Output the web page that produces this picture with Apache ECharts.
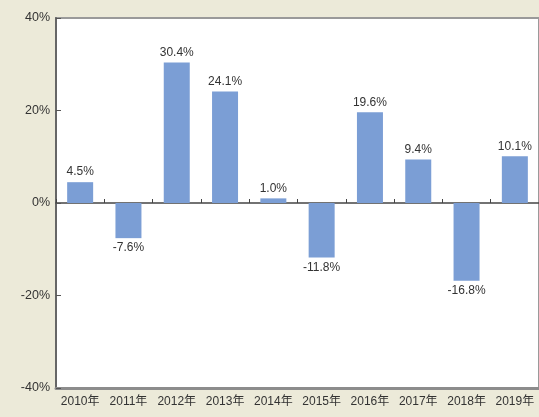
<!DOCTYPE html>
<html>
<head>
<meta charset="utf-8">
<script src="https://cdn.jsdelivr.net/npm/echarts@6/dist/echarts.min.js"></script>
<style>
  html, body { margin: 0; padding: 0; background: #ecead9; }
  #chart { width: 539px; height: 417px; }
</style>
</head>
<body>
<div id="chart"></div>
<script>
// annual change, percent
const years = ["2010年", "2011年", "2012年", "2013年", "2014年", "2015年", "2016年", "2017年", "2018年", "2019年"];
const changes = [4.5, -7.6, 30.4, 24.1, 1.0, -11.8, 19.6, 9.4, -16.8, 10.1];
const yTicks = { min: -40, max: 40, interval: 20 };

const labelFont = "'Liberation Sans', 'Noto Sans CJK JP', sans-serif";
const narrowFont = "'Liberation Sans Narrow', 'Liberation Sans', 'Noto Sans CJK JP', sans-serif";

let chart = echarts.init(document.getElementById("chart"));

chart.setOption({
    backgroundColor: "#ecead9",
    animation: false,
    grid: {
        left: 56, right: -2, top: 18, bottom: 29,
        show: true,
        backgroundColor: "#ffffff",
        borderColor: "#9a9a9a",
        borderWidth: 2
    },
    xAxis: [
        {
            type: "category",
            data: years,
            position: "bottom",
            axisLine: { onZero: false, lineStyle: { color: "#8c8c8c", width: 3 } },
            axisTick: { show: false },
            axisLabel: {
                interval: 0,
                color: "#333", fontSize: 12, fontFamily: narrowFont, margin: 8
            }
        },
        {
            // zero line with small ticks pointing up
            type: "category",
            data: years,
            position: "top",
            axisLine: { onZero: true, lineStyle: { color: "#444", width: 1.5 } },
            axisTick: { show: true, interval: 0, length: 4, lineStyle: { color: "#444" } },
            axisLabel: { show: false, interval: 0 }
        }
    ],
    yAxis: {
        type: "value",
        min: yTicks.min, max: yTicks.max, interval: yTicks.interval,
        axisLine: { show: true, onZero: false, lineStyle: { color: "#666", width: 2 } },
        axisTick: { show: true, inside: true, length: 5, lineStyle: { color: "#555" } },
        splitLine: { show: false },
        axisLabel: {
            color: "#333", fontSize: 12.5, fontFamily: narrowFont, margin: 6,
            formatter: "{value}%"
        }
    },
    series: [{
        type: "bar",
        xAxisIndex: 0,
        barWidth: 26,
        itemStyle: { color: "#7b9ed5" },
        data: changes.map(v => ({
            value: v,
            label: { position: v < 0 ? "bottom" : "top" }
        })),
        label: {
            show: true,
            distance: 4,
            color: "#333",
            fontSize: 12,
            fontFamily: labelFont,
            formatter: p => p.value.toFixed(1) + "%"
        }
    }]
});
</script>
</body>
</html>
